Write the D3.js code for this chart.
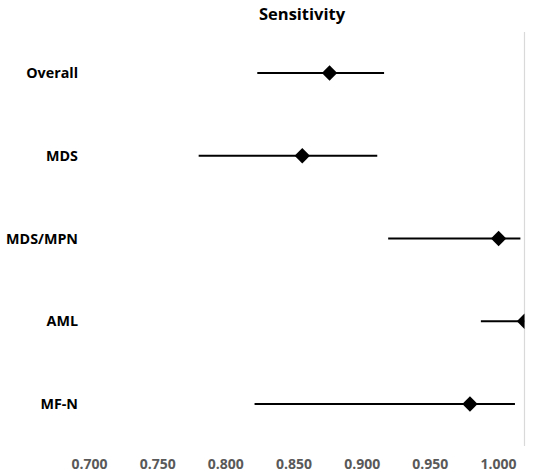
<!DOCTYPE html>
<html>
<head>
<meta charset="utf-8">
<title>Sensitivity</title>
<style>
  body { margin: 0; background: #fff; }
  text { font-family: "Open Sans", "Liberation Sans", sans-serif; }
</style>
</head>
<body>
<div id="chart"></div>
<script src="https://cdn.jsdelivr.net/npm/d3@7/dist/d3.min.js"></script>
<script>
var groups = ['Overall', 'MDS', 'MDS/MPN', 'AML', 'MF-N'];
var estimate = [0.857, 0.837, 0.981, 1.000, 0.960];
var lower = [0.804, 0.761, 0.900, 0.968, 0.802];
var upper = [0.897, 0.892, 0.997, 1.000, 0.993];
var tickValues = [0.700, 0.750, 0.800, 0.850, 0.900, 0.950, 1.000];

var width = 550, height = 476;
var svg = d3.select('#chart').append('svg').attr('width', width).attr('height', height);

var x = d3.scaleLinear().domain([0.7, 1.0]).range([115.5, 524.5]);
var y = d3.scalePoint().domain(groups).range([73, 404]);

svg.append('defs').append('clipPath').attr('id', 'plotclip')
  .append('rect').attr('x', 0).attr('y', 30).attr('width', x(1.0)).attr('height', 420);

// title
svg.append('text').attr('x', 302).attr('y', 20).attr('text-anchor', 'middle')
  .style('font-size', '16.5px').style('font-weight', 'bold').text('Sensitivity');

// reference line at 1.0
svg.append('line').attr('x1', x(1.0)).attr('x2', x(1.0)).attr('y1', 32).attr('y2', 446)
  .attr('stroke', '#d9d9d9').attr('stroke-width', 1.2);

// x axis labels (drawn slightly left of their ticks, as in the source)
var axis = d3.axisBottom(x).tickValues(tickValues).tickFormat(d3.format('.3f')).tickSize(0);
var gx = svg.append('g').attr('transform', 'translate(0,452)').call(axis);
gx.select('.domain').remove();
gx.selectAll('text').attr('dx', -26.5).attr('dy', '1em')
  .style('font-size', '14px').style('font-weight', 'bold').attr('fill', '#595959')
  .style('font-family', '"Open Sans", "Liberation Sans", sans-serif');

// category labels
svg.append('g').selectAll('text').data(groups).join('text')
  .attr('x', 78).attr('y', function(d) { return y(d) + 5; })
  .attr('text-anchor', 'end').style('font-size', '14.3px').style('font-weight', 'bold')
  .text(function(d) { return d; });

var rows = groups.map(function(g, i) {
  return { name: g, est: estimate[i], lo: lower[i], hi: upper[i] };
});

var plot = svg.append('g').attr('clip-path', 'url(#plotclip)');

plot.selectAll('line.ci').data(rows).join('line').attr('class', 'ci')
  .attr('x1', function(d) { return x(d.lo); })
  .attr('x2', function(d) { return x(d.hi); })
  .attr('y1', function(d) { return y(d.name); })
  .attr('y2', function(d) { return y(d.name); })
  .attr('stroke', '#000').attr('stroke-width', 2);

var diamond = d3.symbol().type(d3.symbolDiamond2).size(150);
plot.selectAll('path.pt').data(rows).join('path').attr('class', 'pt')
  .attr('transform', function(d) { return 'translate(' + x(d.est) + ',' + y(d.name) + ')'; })
  .attr('d', diamond).attr('fill', '#000');
</script>
</body>
</html>
